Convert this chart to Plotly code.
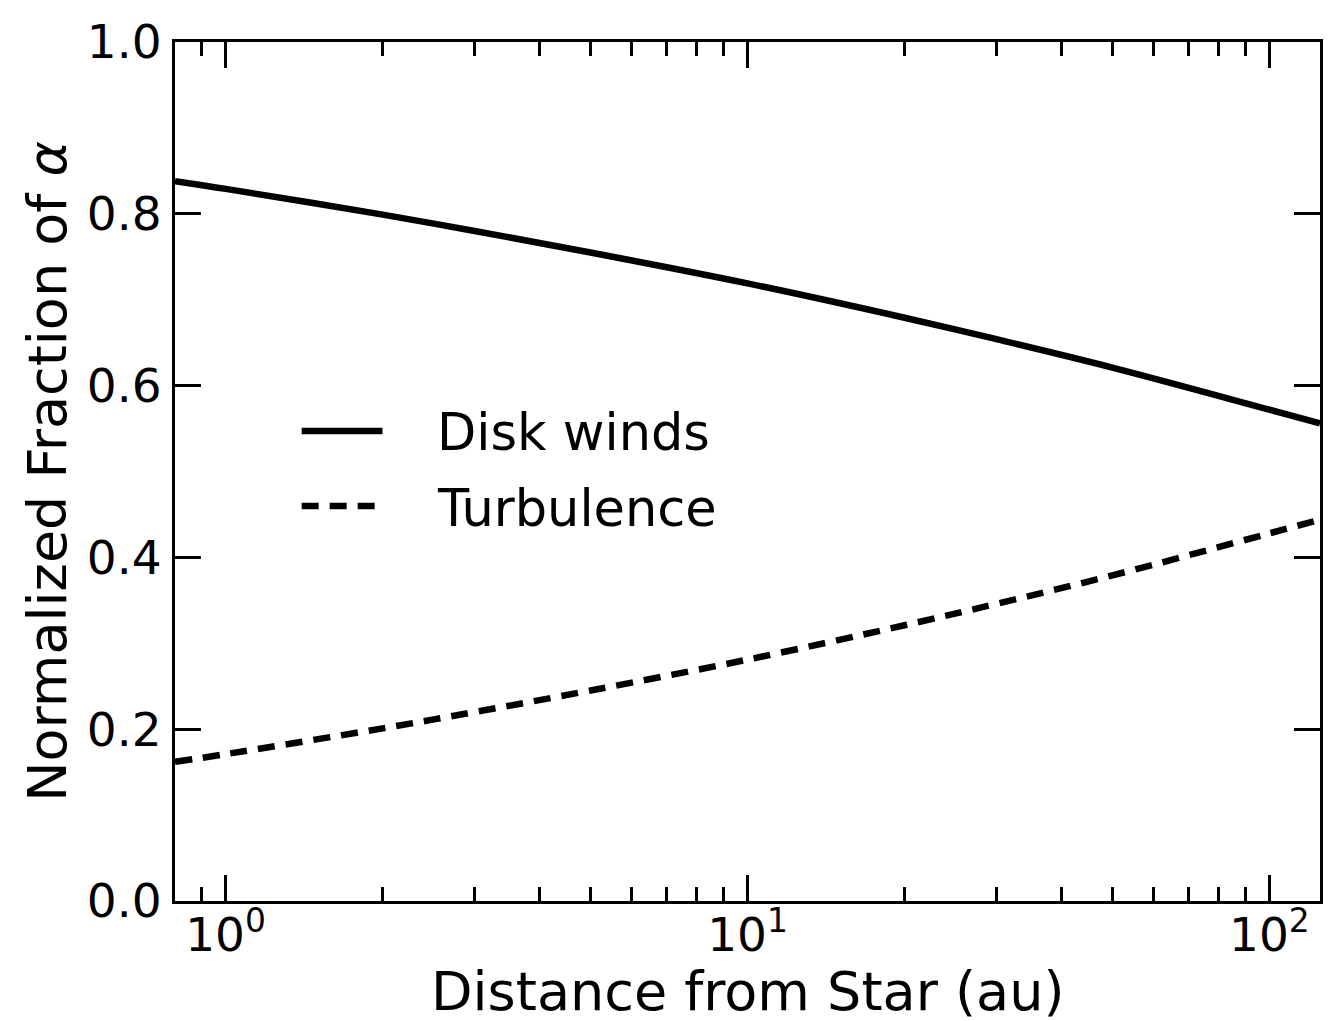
import math
import plotly.graph_objects as go

# ---- data ----
distance_au = [0.8, 1, 2, 3, 5, 10, 20, 30, 50, 100, 125]
disk_winds = [0.838, 0.829, 0.799, 0.780, 0.755, 0.719, 0.679, 0.654, 0.621, 0.572, 0.556]
turbulence = [0.162, 0.171, 0.201, 0.220, 0.245, 0.281, 0.321, 0.346, 0.379, 0.428, 0.444]

x_tickvals = [1, 10, 100]
x_ticktext = ["10<sup>0</sup>", "10<sup>1</sup>", "10<sup>2</sup>"]
x_minor = [0.9, 2, 3, 4, 5, 6, 7, 8, 9, 20, 30, 40, 50, 60, 70, 80, 90]
y_tickvals = [0.0, 0.2, 0.4, 0.6, 0.8, 1.0]
y_ticktext = ["0.0", "0.2", "0.4", "0.6", "0.8", "1.0"]

series_names = ["Disk winds", "Turbulence"]

FONT = "DejaVu Sans"
W, H = 1328, 1021
L, R, T, B = 175, 1323, 42, 901
DASH = "17px,11px"
LW = 6.5

fig = go.Figure()
fig.add_trace(go.Scatter(x=distance_au, y=disk_winds, mode="lines",
                         name=series_names[0],
                         line=dict(color="black", width=LW, shape="spline", smoothing=1.0)))
fig.add_trace(go.Scatter(x=distance_au, y=turbulence, mode="lines",
                         name=series_names[1],
                         line=dict(color="black", width=LW, dash=DASH, shape="spline", smoothing=1.0)))

axis_common = dict(showline=True, linecolor="black", linewidth=3, mirror="ticks",
                   ticks="inside", ticklen=26, tickwidth=3, tickcolor="black",
                   showgrid=False, zeroline=False,
                   tickfont=dict(family=FONT, size=47, color="black"))

fig.update_layout(
    width=W, height=H,
    margin=dict(l=L, r=W - R, t=T, b=H - B),
    paper_bgcolor="white", plot_bgcolor="white",
    showlegend=False,
    font=dict(family=FONT, color="black"),
    xaxis=dict(type="log", range=[math.log10(0.8), math.log10(125)],
               tickmode="array", tickvals=x_tickvals, ticktext=x_ticktext,
               ticklabelstandoff=-9,
               minor=dict(tickmode="array", tickvals=x_minor, ticks="inside", ticklen=14,
                          tickwidth=3, tickcolor="black", showgrid=False),
               **axis_common),
    yaxis=dict(range=[0, 1], tickmode="array", tickvals=y_tickvals, ticktext=y_ticktext,
               ticklabelstandoff=1,
               **axis_common),
)

def px_x(px):
    return (px - L) / (R - L)

def px_y(py):
    return (B - py) / (B - T)

# axis titles
fig.add_annotation(text="Distance from Star (au)", xref="paper", yref="paper",
                   x=0.5, y=px_y(992), xanchor="center", yanchor="middle",
                   showarrow=False, font=dict(family=FONT, size=54, color="black"))
fig.add_annotation(text="Normalized Fraction of <i>α</i>", xref="paper", yref="paper",
                   x=px_x(47), y=0.5, xanchor="center", yanchor="middle", textangle=-90,
                   showarrow=False, font=dict(family=FONT, size=54, color="black"))

# manual legend
legend_rows = [(431, "solid"), (506, DASH)]
for (py, dash), name in zip(legend_rows, series_names):
    fig.add_shape(type="line", xref="paper", yref="paper",
                  x0=px_x(302), x1=px_x(383), y0=px_y(py), y1=px_y(py),
                  line=dict(color="black", width=LW, dash=dash))
    fig.add_annotation(text=name, xref="paper", yref="paper",
                       x=px_x(436), y=px_y(py + 2), xanchor="left", yanchor="middle",
                       showarrow=False, font=dict(family=FONT, size=51, color="black"))

fig.write_html("out.html",
               config={"displayModeBar": False},
               post_script="document.body.style.margin='0';document.body.style.overflow='hidden';")
